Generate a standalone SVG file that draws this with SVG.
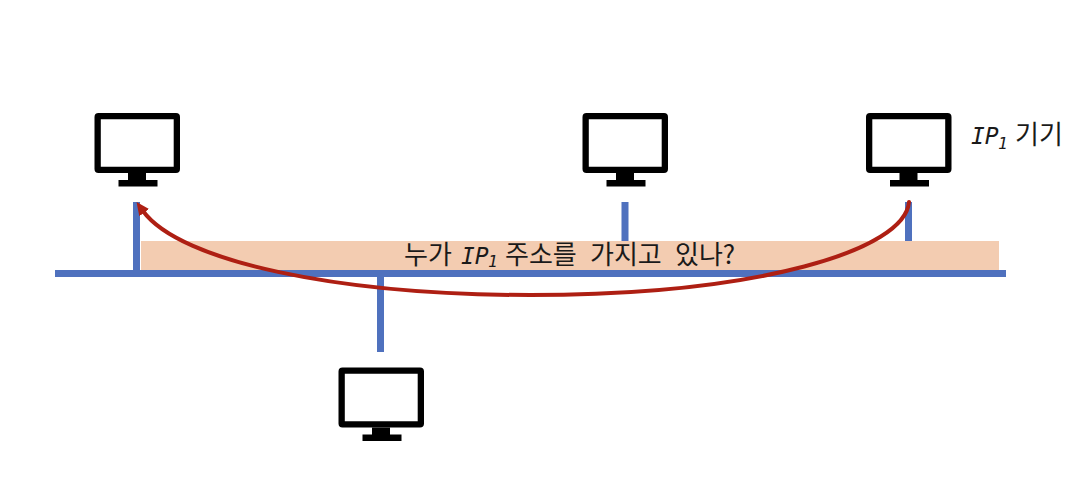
<svg xmlns="http://www.w3.org/2000/svg" width="1090" height="494" viewBox="0 0 1090 494">
<style>
.w{stroke:#4f71be;fill:none}
.t{font-family:"Noto Sans CJK KR","Noto Sans",sans-serif;font-size:26px;fill:#1a1a1a}
.i{font-family:"DejaVu Sans Mono",monospace;font-style:italic;font-size:23px;fill:#1a1a1a}
.s{font-family:"DejaVu Sans Mono",monospace;font-style:italic;font-size:16px;fill:#1a1a1a}
</style>
<defs>
<g id="pc">
<path fill-rule="evenodd" d="M4 0H81.500a4 4 0 0 1 4 4V56a4 4 0 0 1-4 4H4a4 4 0 0 1-4-4V4a4 4 0 0 1 4-4ZM6.300 6.300V53.700H79.200V6.300Z" fill="#000"/>
<path d="M33.500 60h18v7h11.500v6.500h-39v-6.500h9.500z" fill="#000"/>
</g>
<marker id="ah" markerUnits="userSpaceOnUse" markerWidth="14" markerHeight="14" refX="2" refY="7" orient="auto">
<path d="M0 1L13 7L0 13Z" fill="#ae1f13"/>
</marker>
</defs>
<rect id="banner" x="141" y="241" width="858" height="29" fill="#f3ccb1"/>
<g id="connectors">
<path class="w" stroke-width="7" d="M55 273.500H1006"/>
<path class="w" stroke-width="7" d="M136.500 202V273M625 202V241M908.500 202V241M380.500 273V352"/>
<path d="M909 202C905 250 760 295 530 295C340 295 180 262 143 211" fill="none" stroke="#ae1f13" stroke-width="4" stroke-linecap="round" marker-end="url(#ah)"/>
</g>
<g id="node1"><use href="#pc" x="94.500" y="113"/></g>
<g id="node2"><use href="#pc" x="582.500" y="113"/></g>
<g id="node3"><use href="#pc" x="866" y="113"/></g>
<g id="node4"><use href="#pc" x="338.500" y="367.500"/></g>
<text class="t" y="264"><tspan x="404">누가</tspan><tspan class="i" x="461">IP</tspan><tspan class="s" x="488" dy="3">1</tspan><tspan x="505" dy="-3">주소를</tspan><tspan x="590">가지고</tspan><tspan x="675">있나?</tspan></text>
<text class="t" y="144"><tspan class="i" x="971">IP</tspan><tspan class="s" x="998" dy="5">1</tspan><tspan x="1015" dy="-5">기기</tspan></text>
</svg>
